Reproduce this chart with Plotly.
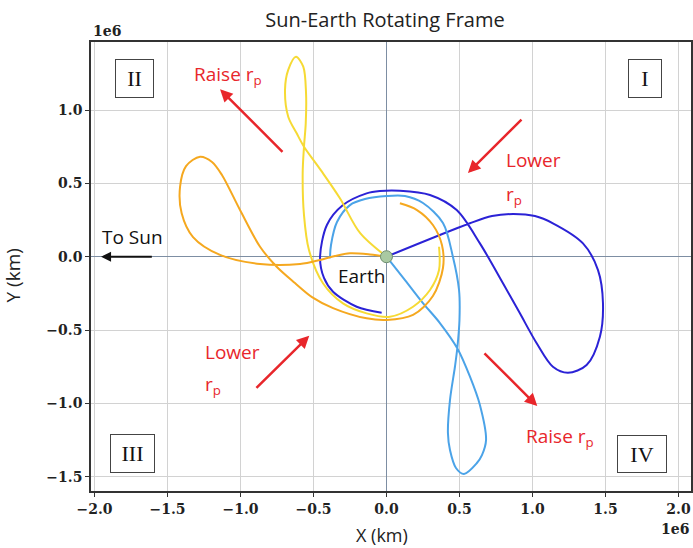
import plotly.graph_objects as go

# ---------------- data (units: 1e6 km) ----------------
yellow_x = [0.0, -0.18, -0.32, -0.45, -0.565, -0.615, -0.673, -0.695, -0.673, -0.620, -0.570, -0.551, -0.553,
            -0.565, -0.574, -0.565, -0.531, -0.435, -0.298, -0.136, 0.024, 0.182, 0.298, 0.360, 0.360]
yellow_y = [0.0, 0.16, 0.40, 0.59, 0.750, 0.841, 0.954, 1.136, 1.273, 1.363, 1.295, 1.114, 0.909,
            0.750, 0.569, 0.284, 0.046, -0.181, -0.318, -0.386, -0.409, -0.341, -0.227, -0.091, 0.068]

orange_x = [0.0, -0.113, -0.250, -0.353, -0.455, -0.592, -0.866, -1.140, -1.325, -1.403, -1.414, -1.373, -1.277,
            -1.195, -1.127, -1.003, -0.866, -0.752, -0.627, -0.510, -0.366, -0.136, 0.001, 0.182, 0.318,
            0.387, 0.380, 0.318, 0.209, 0.092]
orange_y = [0.0, 0.015, 0.023, 0.005, -0.022, -0.050, -0.050, 0.012, 0.134, 0.296, 0.477, 0.618, 0.682,
            0.646, 0.557, 0.318, 0.068, -0.068, -0.179, -0.275, -0.350, -0.420, -0.431, -0.397, -0.268,
            -0.077, 0.080, 0.216, 0.318, 0.364]

blue_x = [0.0, 0.572, 0.723, 0.868, 1.017, 1.140, 1.346, 1.449, 1.483, 1.462, 1.371, 1.243, 1.140, 1.029,
          0.914, 0.798, 0.640, 0.481, 0.298, 0.092, -0.045, -0.136, -0.298, -0.408, -0.455, -0.428, -0.366,
          -0.204, -0.033]
blue_y = [0.0, 0.228, 0.277, 0.291, 0.277, 0.228, 0.091, -0.091, -0.316, -0.545, -0.738, -0.791, -0.750,
          -0.590, -0.386, -0.181, 0.091, 0.318, 0.421, 0.450, 0.448, 0.432, 0.352, 0.216, -0.009, -0.145,
          -0.239, -0.341, -0.382]

lightblue_x = [0.0, 0.127, 0.250, 0.366, 0.485, 0.572, 0.640, 0.682, 0.654, 0.618, 0.531, 0.476, 0.435, 0.421,
               0.435, 0.469, 0.485, 0.500, 0.497, 0.455, 0.387, 0.250, 0.127, 0.001, -0.147, -0.250, -0.339,
               -0.380, -0.387]
lightblue_y = [0.0, -0.159, -0.316, -0.452, -0.624, -0.818, -1.011, -1.250, -1.352, -1.408, -1.481, -1.440,
               -1.318, -1.202, -0.977, -0.750, -0.624, -0.431, -0.227, 0.0, 0.230, 0.366, 0.414, 0.414, 0.393,
               0.352, 0.237, 0.080, -0.011]

tick_vals = [-2.0, -1.5, -1.0, -0.5, 0.0, 0.5, 1.0, 1.5, 2.0]
tick_text = ["\u22122.0", "\u22121.5", "\u22121.0", "\u22120.5", "0.0", "0.5", "1.0", "1.5", "2.0"]
ytick_vals = [-1.5, -1.0, -0.5, 0.0, 0.5, 1.0]
ytick_text = ["\u22121.5", "\u22121.0", "\u22120.5", "0.0", "0.5", "1.0"]

series = [
    (blue_x, blue_y, "#2b22d6"),
    (lightblue_x, lightblue_y, "#4ba3e8"),
    (yellow_x, yellow_y, "#f6da34"),
    (orange_x, orange_y, "#f5a81f"),
]

fig = go.Figure()
for xs, ys, col in series:
    fig.add_trace(go.Scatter(x=xs, y=ys, mode="lines",
                             line=dict(color=col, width=2, shape="spline", smoothing=0.9),
                             hoverinfo="skip", showlegend=False))

# Earth
fig.add_trace(go.Scatter(x=[0.0], y=[0.0], mode="markers",
                         marker=dict(size=12, color="#a9c9a2", line=dict(color="#6f8f70", width=1)),
                         showlegend=False, hoverinfo="skip"))

RED = "#e8262b"
SANS = "Open Sans"
ann = []

def arrow(x0, y0, x1, y1, color=RED, w=2.5):
    ann.append(dict(x=x1, y=y1, ax=x0, ay=y0, xref="x", yref="y", axref="x", ayref="y",
                    text="", showarrow=True, arrowhead=2, arrowsize=1, arrowwidth=w, arrowcolor=color))

def label(x, y, text, color=RED, size=19, xanchor="left"):
    ann.append(dict(x=x, y=y, xref="x", yref="y", text=text, showarrow=False, xanchor=xanchor,
                    yanchor="middle", font=dict(family=SANS, size=size, color=color)))

def roman(x, y, text, w, h):
    ann.append(dict(x=x, y=y, xref="x", yref="y", text=text, showarrow=False, width=w, height=h,
                    bordercolor="#444", borderwidth=1, borderpad=0, bgcolor="white",
                    font=dict(family="Liberation Serif", size=22, color="#111")))

arrow(-0.702, 0.705, -1.140, 1.141)
arrow(0.935, 0.945, 0.558, 0.571)
arrow(-0.901, -0.904, -0.529, -0.539)
arrow(0.661, -0.648, 1.033, -1.018)
arrow(-1.597, 0.0, -1.955, 0.0, color="#111", w=2)

label(-1.334, 1.239, "Raise r<sub>p</sub>")
label(0.805, 0.659, "Lower")
label(0.805, 0.42, "r<sub>p</sub>")
label(-1.259, -0.648, "Lower")
label(-1.259, -0.875, "r<sub>p</sub>")
label(0.942, -1.227, "Raise r<sub>p</sub>")
label(-1.962, 0.136, "To Sun", color="#111")
label(-0.171, -0.132, "Earth", color="#111", xanchor="center")

roman(-1.723, 1.212, "II", 37, 37)
roman(1.774, 1.212, "I", 32, 37)
roman(-1.743, -1.341, "III", 43, 37)
roman(1.750, -1.343, "IV", 48, 36)

# offset labels and axis titles
ann.append(dict(x=0.0, y=1.0, xref="paper", yref="paper", text="<b>1e6</b>", showarrow=False,
                xanchor="left", yanchor="bottom", yshift=1,
                font=dict(family="DejaVu Serif", size=14, color="#222")))
ann.append(dict(x=1.0, y=0.0, xref="paper", yref="paper", text="<b>1e6</b>", showarrow=False,
                xanchor="right", yanchor="top", yshift=-28,
                font=dict(family="DejaVu Serif", size=14, color="#222")))
ann.append(dict(x=0.5, y=0.0, xref="paper", yref="paper", text="X (km)", showarrow=False,
                xanchor="center", yanchor="middle", yshift=-44, xshift=-9,
                font=dict(family=SANS, size=18, color="#222")))
ann.append(dict(x=0.0, y=0.5, xref="paper", yref="paper", text="Y (km)", showarrow=False,
                xanchor="center", yanchor="middle", xshift=-79, yshift=-9, textangle=-90,
                font=dict(family=SANS, size=19, color="#222")))

axis_common = dict(showgrid=True, gridcolor="#d2d2d2", gridwidth=1,
                   zeroline=True, zerolinecolor="#7d8ea3", zerolinewidth=1.3,
                   showline=True, linecolor="#333", linewidth=1.5, mirror=True,
                   ticks="outside", ticklen=4, tickcolor="#333", automargin=False,
                   tickfont=dict(family="DejaVu Serif", size=14, color="#222", weight="bold"))

fig.update_layout(
    width=693, height=548,
    margin=dict(l=91, r=2, t=42, b=57, autoexpand=False),
    paper_bgcolor="white", plot_bgcolor="white",
    title=dict(text="Sun-Earth Rotating Frame", x=385 / 693, y=1 - 20 / 548,
               xanchor="center", yanchor="middle", automargin=False,
               font=dict(family=SANS, size=20, color="#222")),
    xaxis=dict(range=[-2.024, 2.086], tickvals=tick_vals, ticktext=tick_text, **axis_common),
    yaxis=dict(range=[-1.597, 1.4636], tickvals=ytick_vals, ticktext=ytick_text, **axis_common),
    annotations=ann,
    showlegend=False,
)

fig.write_html("out.html", config={"displayModeBar": False},
               post_script="document.body.style.margin='0';document.body.style.overflow='hidden';")
